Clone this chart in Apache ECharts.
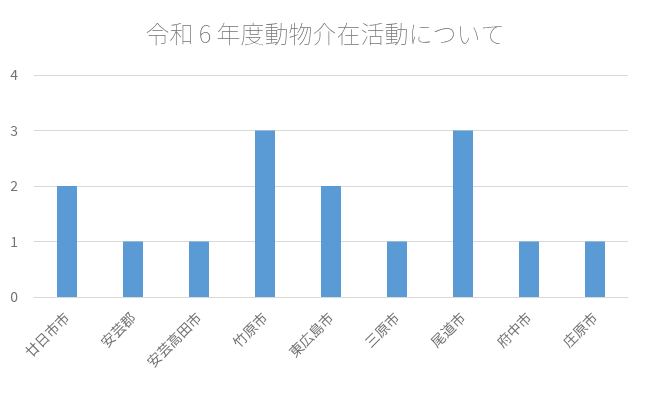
<!DOCTYPE html>
<html><head><meta charset="utf-8">
<script src="https://cdn.jsdelivr.net/npm/echarts@6/dist/echarts.min.js"></script>
<style>html,body{margin:0;padding:0;background:#fff}#c{width:650px;height:393px}</style>
</head><body><div id="c"></div>
<script>
const categories = ['廿日市市','安芸郡','安芸高田市','竹原市','東広島市','三原市','尾道市','府中市','庄原市'];
const values = [2,1,1,3,2,1,3,1,1];
const title = '令和 6 年度動物介在活動について';
const font = '"Noto Sans CJK JP", sans-serif';
const chart = echarts.init(document.getElementById('c'));
chart.setOption({
  animation:false,
  title:{text:title,left:'center',top:17,textStyle:{fontFamily:font,fontSize:24,fontWeight:'lighter',color:'#737373'}},
  grid:{left:34,right:22,top:75,bottom:96},
  xAxis:{type:'category',data:categories,
    axisLine:{lineStyle:{color:'#d9d9d9'}},axisTick:{show:false},
    axisLabel:{rotate:45,color:'#737373',fontFamily:font,fontSize:14,margin:18,interval:0}},
  yAxis:{type:'value',min:0,max:4,interval:1,
    axisLine:{show:false},axisTick:{show:false},
    splitLine:{lineStyle:{color:'#d9d9d9'}},
    axisLabel:{color:'#737373',fontFamily:font,fontSize:14,margin:16}},
  series:[{type:'bar',data:values,barWidth:20,itemStyle:{color:'#5b9bd5'}}]
});
</script></body></html>
